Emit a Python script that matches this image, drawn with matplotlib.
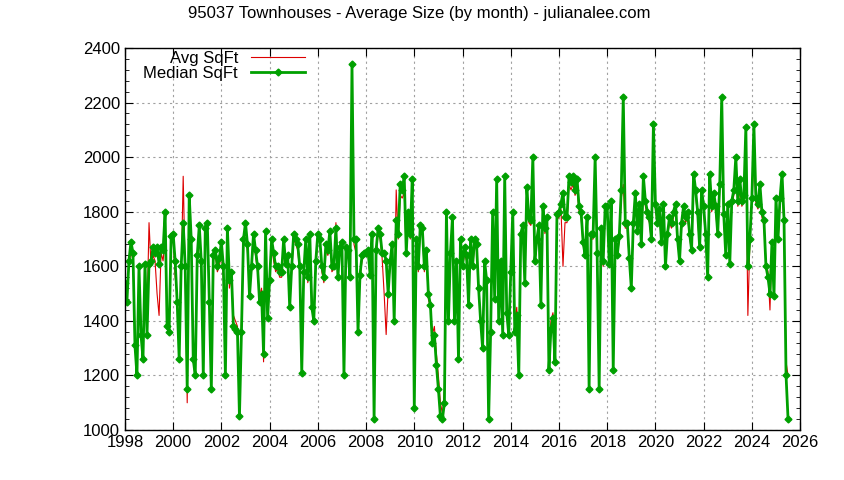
import numpy as np
import matplotlib.pyplot as plt
from matplotlib.ticker import MultipleLocator

# monthly values, Jan 1998 .. Jul 2025
median_sqft = [
    1540, 1470, 1620, 1690, 1650, 1310, 1200, 1600, 1350, 1260, 1610, 1350,  # 1998
    1610, 1620, 1670, 1650, 1670, 1610, 1670, 1660, 1800, 1380, 1360, 1710,  # 1999
    1720, 1620, 1470, 1260, 1600, 1760, 1600, 1150, 1860, 1700, 1260, 1200,  # 2000
    1640, 1750, 1620, 1200, 1740, 1760, 1470, 1150, 1640, 1660, 1600, 1630,  # 2001
    1690, 1600, 1200, 1740, 1550, 1580, 1380, 1370, 1360, 1050, 1360, 1700,  # 2002
    1760, 1680, 1490, 1600, 1720, 1660, 1600, 1470, 1500, 1280, 1730, 1410,  # 2003
    1550, 1700, 1650, 1600, 1600, 1580, 1580, 1700, 1610, 1640, 1450, 1600,  # 2004
    1720, 1700, 1680, 1600, 1210, 1580, 1700, 1560, 1720, 1450, 1400, 1620,  # 2005
    1720, 1700, 1600, 1560, 1680, 1660, 1730, 1600, 1600, 1740, 1560, 1670,  # 2006
    1690, 1200, 1670, 1660, 1560, 2340, 1700, 1700, 1360, 1570, 1640, 1650,  # 2007
    1650, 1660, 1570, 1720, 1040, 1660, 1740, 1720, 1650, 1650, 1620, 1500,  # 2008
    1620, 1680, 1400, 1770, 1720, 1900, 1880, 1930, 1650, 1800, 1720, 1920,  # 2009
    1080, 1700, 1600, 1750, 1740, 1600, 1660, 1500, 1460, 1320, 1350, 1240,  # 2010
    1150, 1050, 1040, 1100, 1800, 1400, 1650, 1780, 1400, 1620, 1260, 1700,  # 2011
    1600, 1670, 1640, 1460, 1700, 1600, 1700, 1680, 1520, 1400, 1300, 1620,  # 2012
    1550, 1040, 1360, 1800, 1480, 1920, 1400, 1620, 1350, 1930, 1430, 1350,  # 2013
    1580, 1800, 1360, 1420, 1200, 1720, 1750, 1540, 1890, 1780, 1770, 2000,  # 2014
    1620, 1700, 1750, 1460, 1820, 1740, 1780, 1220, 1370, 1410, 1250, 1790,  # 2015
    1800, 1830, 1870, 1780, 1780, 1930, 1910, 1930, 1880, 1920, 1820, 1800,  # 2016
    1690, 1640, 1780, 1150, 1720, 1720, 2000, 1650, 1150, 1740, 1620, 1820,  # 2017
    1820, 1610, 1840, 1220, 1700, 1640, 1710, 1880, 2220, 1760, 1760, 1630,  # 2018
    1520, 1760, 1870, 1730, 1830, 1680, 1930, 1840, 1800, 1780, 1700, 2120,  # 2019
    1830, 1760, 1810, 1690, 1830, 1600, 1720, 1780, 1760, 1800, 1830, 1700,  # 2020
    1620, 1760, 1820, 1780, 1800, 1720, 1660, 1940, 1880, 1800, 1670, 1880,  # 2021
    1820, 1720, 1560, 1940, 1820, 1870, 1820, 1720, 1900, 2220, 1790, 1640,  # 2022
    1830, 1610, 1840, 1880, 2000, 1840, 1920, 1840, 1860, 2110, 1600, 1700,  # 2023
    1850, 2120, 1850, 1830, 1900, 1800, 1770, 1600, 1560, 1500, 1690, 1490,  # 2024
    1850, 1700, 1850, 1940, 1770, 1200, 1040,                                # 2025
]
avg_sqft = [
    1550, 1500, 1600, 1660, 1620, 1350, 1250, 1560, 1400, 1300, 1580, 1420,  # 1998
    1760, 1600, 1640, 1620, 1500, 1420, 1650, 1620, 1700, 1450, 1400, 1680,  # 1999
    1700, 1560, 1500, 1320, 1560, 1930, 1580, 1100, 1800, 1680, 1300, 1250,  # 2000
    1600, 1720, 1600, 1260, 1700, 1730, 1500, 1200, 1620, 1640, 1580, 1600,  # 2001
    1660, 1560, 1250, 1730, 1520, 1560, 1420, 1400, 1380, 1100, 1400, 1680,  # 2002
    1740, 1650, 1520, 1580, 1700, 1640, 1580, 1490, 1520, 1250, 1710, 1440,  # 2003
    1560, 1680, 1620, 1580, 1590, 1560, 1560, 1680, 1600, 1620, 1480, 1580,  # 2004
    1700, 1680, 1660, 1580, 1250, 1560, 1690, 1540, 1700, 1480, 1430, 1600,  # 2005
    1700, 1690, 1580, 1540, 1660, 1640, 1720, 1580, 1590, 1760, 1580, 1650,  # 2006
    1680, 1310, 1650, 1640, 1580, 2140, 1680, 1650, 1400, 1560, 1620, 1640,  # 2007
    1640, 1640, 1560, 1700, 1100, 1640, 1720, 1700, 1630, 1500, 1350, 1520,  # 2008
    1600, 1660, 1450, 1880, 1700, 1860, 1850, 1870, 1640, 1780, 1700, 1880,  # 2009
    1100, 1680, 1580, 1730, 1720, 1580, 1640, 1480, 1450, 1350, 1380, 1280,  # 2010
    1200, 1100, 1060, 1150, 1760, 1420, 1630, 1760, 1420, 1600, 1290, 1680,  # 2011
    1590, 1650, 1620, 1480, 1680, 1590, 1680, 1660, 1510, 1420, 1330, 1600,  # 2012
    1540, 1100, 1400, 1780, 1500, 1880, 1420, 1600, 1380, 1880, 1450, 1400,  # 2013
    1570, 1770, 1400, 1450, 1250, 1700, 1740, 1560, 1860, 1760, 1750, 1950,  # 2014
    1610, 1690, 1730, 1480, 1800, 1720, 1760, 1260, 1400, 1430, 1300, 1770,  # 2015
    1780, 1810, 1600, 1760, 1760, 1900, 1880, 1900, 1860, 1880, 1800, 1780,  # 2016
    1680, 1630, 1760, 1200, 1700, 1700, 1950, 1640, 1200, 1720, 1600, 1800,  # 2017
    1800, 1600, 1820, 1270, 1690, 1630, 1700, 1850, 1900, 1740, 1740, 1620,  # 2018
    1530, 1740, 1850, 1720, 1810, 1670, 1900, 1820, 1780, 1760, 1690, 2040,  # 2019
    1810, 1750, 1790, 1680, 1810, 1610, 1710, 1760, 1740, 1780, 1810, 1690,  # 2020
    1630, 1740, 1800, 1760, 1780, 1710, 1650, 1900, 1860, 1780, 1660, 1860,  # 2021
    1800, 1700, 1580, 1900, 1800, 1850, 1800, 1710, 1880, 2050, 1770, 1650,  # 2022
    1810, 1620, 1820, 1860, 1950, 1820, 1880, 1820, 1840, 2040, 1420, 1690,  # 2023
    1830, 2000, 1830, 1810, 1870, 1780, 1750, 1620, 1580, 1440, 1680, 1500,  # 2024
    1830, 1690, 1830, 1900, 1750, 1250, 1200,                                # 2025
]

months = 1998 + np.arange(len(median_sqft)) / 12.0

plt.rcParams['font.family'] = ['Liberation Sans', 'DejaVu Sans']
fig = plt.figure(figsize=(8.44, 4.8), dpi=100)
ax = fig.add_axes([0.148, 0.104, 0.8, 0.796])

ax.plot(months, avg_sqft, color='#dd0000', lw=0.8, label='Avg SqFt')
ax.plot(months, median_sqft, color='#00a000', lw=2, marker='D', ms=3.5,
        label='Median SqFt')

ax.set_xlim(1998, 2026)
ax.set_ylim(1000, 2400)
ax.xaxis.set_major_locator(MultipleLocator(2))
ax.yaxis.set_major_locator(MultipleLocator(200))
ax.yaxis.set_minor_locator(MultipleLocator(40))
ax.tick_params(which='both', direction='in', top=True, right=True, labelsize=12)
ax.tick_params(which='major', length=6)
ax.tick_params(which='minor', length=3)
ax.grid(True, color='#a0a0a0', ls=(0, (2, 3)), lw=0.8)
for s in ax.spines.values():
    s.set_linewidth(1)

ax.legend(loc='upper left', frameon=False, markerfirst=False, fontsize=12,
          handlelength=3.2, borderaxespad=0.1, labelspacing=0.0,
          bbox_to_anchor=(0.015, 1.015))
fig.text(0.497, 0.972, '95037 Townhouses - Average Size (by month) - julianalee.com',
         ha='center', va='center', fontsize=12)

fig.savefig('out.png')
